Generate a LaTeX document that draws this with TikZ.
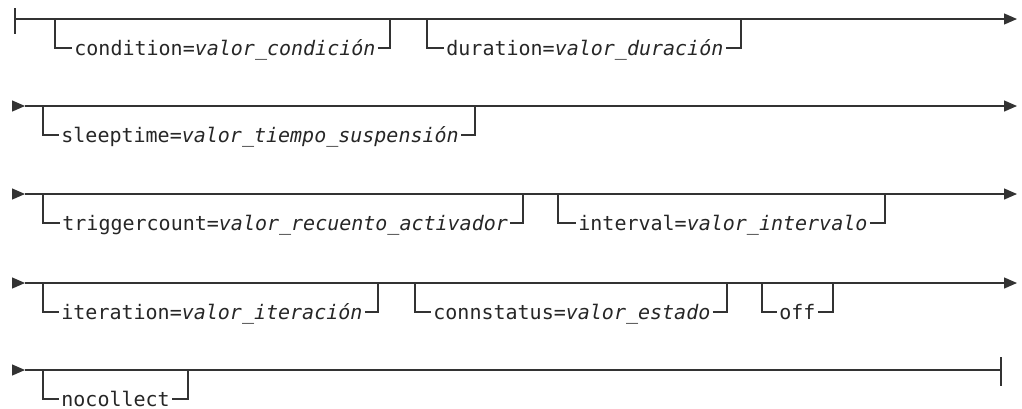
\documentclass[tikz,border=0pt]{standalone}
\usepackage{fontspec}
\setmonofont{DejaVu Sans Mono}
\usetikzlibrary{arrows.meta}
\begin{document}
\begin{tikzpicture}[x=0.5pt,y=-0.5pt,
  rail/.style={line width=0.65pt, draw=black!80},
  opt/.style={anchor=west, inner xsep=1pt, inner ysep=0pt, text height=7pt, text depth=0pt,
              font=\fontsize{10}{12}\selectfont\ttfamily, text=black!85},
  tip/.style={-{Triangle[length=6.5pt,width=5.5pt]}}]
\useasboundingbox (0,0) rectangle (1022,408);

% ---------- row 1
\coordinate (r1bt) at (15,8); \coordinate (r1bb) at (15,34);
\coordinate (r1s) at (15,19); \coordinate (r1e) at (1017,19);
\draw[rail] (r1bt) -- (r1bb);
\draw[rail,tip] (r1s) -- (r1e);
\coordinate (c1a) at (55,19);  \coordinate (c1b) at (390,19);
\node[opt] (c1) at (72,48) {condition=\textit{valor\_condición}};
\draw[rail] (c1a) |- (c1.west); \draw[rail] (c1.east) -| (c1b);
\coordinate (c2a) at (427,19); \coordinate (c2b) at (741,19);
\node[opt] (c2) at (444,48) {duration=\textit{valor\_duración}};
\draw[rail] (c2a) |- (c2.west); \draw[rail] (c2.east) -| (c2b);

% ---------- row 2
\coordinate (r2t) at (12,106); \coordinate (r2s) at (25,106); \coordinate (r2e) at (1017,106);
\draw[rail,tip] (r2t) -- (r2s);
\draw[rail,tip] (r2s) -- (r2e);
\coordinate (s1a) at (43,106); \coordinate (s1b) at (475,106);
\node[opt] (s1) at (59,135) {sleeptime=\textit{valor\_tiempo\_suspensión}};
\draw[rail] (s1a) |- (s1.west); \draw[rail] (s1.east) -| (s1b);

% ---------- row 3
\coordinate (r3t) at (12,194); \coordinate (r3s) at (25,194); \coordinate (r3e) at (1017,194);
\draw[rail,tip] (r3t) -- (r3s);
\draw[rail,tip] (r3s) -- (r3e);
\coordinate (t1a) at (43,194); \coordinate (t1b) at (523,194);
\node[opt] (t1) at (60,223) {triggercount=\textit{valor\_recuento\_activador}};
\draw[rail] (t1a) |- (t1.west); \draw[rail] (t1.east) -| (t1b);
\coordinate (t2a) at (558,194); \coordinate (t2b) at (885,194);
\node[opt] (t2) at (576,223) {interval=\textit{valor\_intervalo}};
\draw[rail] (t2a) |- (t2.west); \draw[rail] (t2.east) -| (t2b);

% ---------- row 4
\coordinate (r4t) at (12,283); \coordinate (r4s) at (25,283); \coordinate (r4e) at (1017,283);
\draw[rail,tip] (r4t) -- (r4s);
\draw[rail,tip] (r4s) -- (r4e);
\coordinate (i1a) at (43,283); \coordinate (i1b) at (378,283);
\node[opt] (i1) at (59,312) {iteration=\textit{valor\_iteración}};
\draw[rail] (i1a) |- (i1.west); \draw[rail] (i1.east) -| (i1b);
\coordinate (i2a) at (415,283); \coordinate (i2b) at (727,283);
\node[opt] (i2) at (431,312) {connstatus=\textit{valor\_estado}};
\draw[rail] (i2a) |- (i2.west); \draw[rail] (i2.east) -| (i2b);
\coordinate (i3a) at (762,283); \coordinate (i3b) at (833,283);
\node[opt] (i3) at (777,312) {off};
\draw[rail] (i3a) |- (i3.west); \draw[rail] (i3.east) -| (i3b);

% ---------- row 5
\coordinate (r5t) at (12,370); \coordinate (r5s) at (25,370); \coordinate (r5e) at (1001,370);
\coordinate (r5bt) at (1001,357); \coordinate (r5bb) at (1001,386);
\draw[rail,tip] (r5t) -- (r5s);
\draw[rail] (r5s) -- (r5e);
\draw[rail] (r5bt) -- (r5bb);
\coordinate (n1a) at (43,370); \coordinate (n1b) at (188,370);
\node[opt] (n1) at (59,399) {nocollect};
\draw[rail] (n1a) |- (n1.west); \draw[rail] (n1.east) -| (n1b);
\end{tikzpicture}
\end{document}
